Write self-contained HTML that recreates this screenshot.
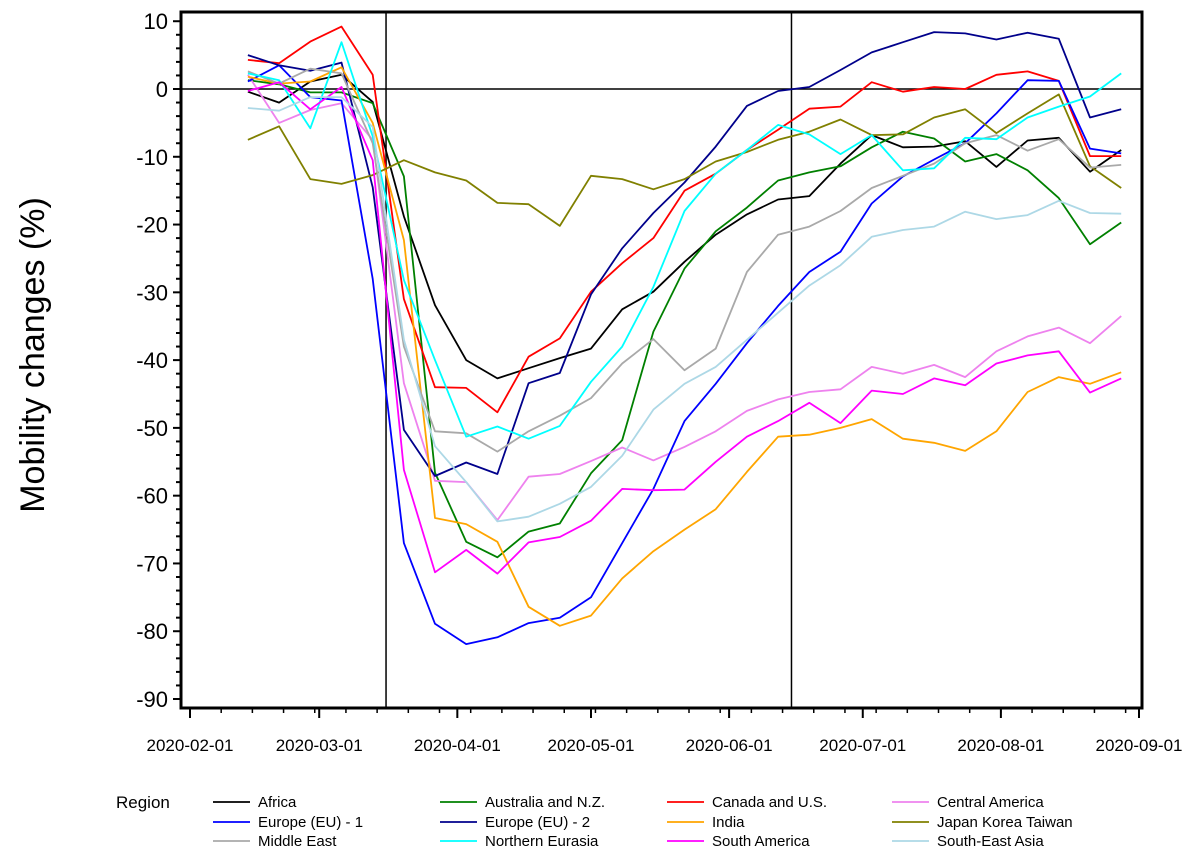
<!DOCTYPE html>
<html><head><meta charset="utf-8"><style>
body{margin:0;background:#fff;width:1194px;height:858px;overflow:hidden;font-family:"Liberation Sans",Arial,sans-serif}
</style></head><body>
<svg id="chart" width="1194" height="858" xmlns="http://www.w3.org/2000/svg" font-family="Liberation Sans, Arial, sans-serif"></svg>
<script>
const regions=["Africa","Australia and N.Z.","Canada and U.S.","Central America","Europe (EU) - 1","Europe (EU) - 2","India","Japan Korea Taiwan","Middle East","Northern Eurasia","South America","South-East Asia"];
const colors=["#000000","#008000","#ff0000","#ee82ee","#0000ff","#00008b","#ffa500","#808000","#a9a9a9","#00ffff","#ff00ff","#add8e6"];
const startDay=13, stepDays=7;
const yTicks=[10,0,-10,-20,-30,-40,-50,-60,-70,-80,-90];
const xTickLabels=["2020-02-01","2020-03-01","2020-04-01","2020-05-01","2020-06-01","2020-07-01","2020-08-01","2020-09-01"];
const xTickDays=[0,29,60,90,121,151,182,213];
const vlineDays=[44,135];
const africa=[-0.4,-2.0,1.1,2.1,-1.9,-18.8,-31.9,-40.0,-42.7,-41.2,-39.7,-38.3,-32.5,-29.9,-25.5,-21.5,-18.5,-16.3,-15.8,-11,-6.8,-8.6,-8.5,-7.7,-11.5,-7.6,-7.2,-12.2,-9.0];
const australia=[1.3,0.7,-0.5,-0.5,-2.1,-12.9,-56.6,-66.8,-69.1,-65.3,-64.1,-56.7,-51.8,-35.8,-26.5,-21,-17.5,-13.5,-12.3,-11.4,-8.6,-6.3,-7.3,-10.7,-9.6,-12.0,-16.1,-22.9,-19.7];
const canada=[4.3,3.8,7.0,9.2,2.1,-31,-44.0,-44.1,-47.7,-39.5,-36.8,-29.9,-25.7,-22,-15,-12.5,-9,-6,-2.9,-2.6,1.0,-0.4,0.3,0.0,2.1,2.6,1.2,-9.9,-9.9];
const centralAmerica=[2.1,-5.0,-3.1,-2.1,-7.5,-43.4,-57.8,-58.0,-63.6,-57.2,-56.8,-54.9,-52.9,-54.8,-52.8,-50.5,-47.5,-45.8,-44.7,-44.3,-41,-42,-40.7,-42.5,-38.7,-36.5,-35.2,-37.5,-33.5];
const europe1=[1.1,3.5,-1.2,-1.7,-28,-67,-78.9,-81.9,-80.9,-78.8,-78,-75,-67,-59,-49,-43.5,-37.5,-32,-27,-24,-16.9,-12.9,-10.4,-8,-3.6,1.3,1.2,-8.8,-9.5];
const europe2=[5.0,3.5,2.7,3.9,-14.5,-50.3,-57.1,-55.1,-56.8,-43.4,-41.9,-30.3,-23.5,-18.3,-13.8,-8.5,-2.5,-0.3,0.3,2.8,5.4,6.9,8.4,8.2,7.3,8.3,7.4,-4.2,-3.0];
const india=[1.8,0.8,1.1,3.2,-5,-22.3,-63.3,-64.2,-66.8,-76.4,-79.2,-77.7,-72.2,-68.2,-65,-62,-56.5,-51.3,-51,-50,-48.7,-51.6,-52.2,-53.4,-50.5,-44.7,-42.5,-43.5,-41.8];
const japan=[-7.5,-5.5,-13.3,-14.0,-12.7,-10.5,-12.3,-13.5,-16.8,-17,-20.2,-12.8,-13.3,-14.8,-13.3,-10.7,-9.3,-7.5,-6.3,-4.5,-6.8,-6.7,-4.2,-3.0,-6.5,-3.6,-0.8,-11.4,-14.6];
const middleEast=[2.6,0.8,3.0,2.3,-8,-38,-50.5,-50.8,-53.5,-50.5,-48.2,-45.6,-40.5,-36.9,-41.5,-38.3,-27,-21.5,-20.3,-18.0,-14.6,-12.8,-11.0,-8.0,-6.8,-9.1,-7.4,-11.6,-11.2];
const northernEurasia=[2.3,1.3,-5.8,6.9,-7,-28.2,-40.0,-51.3,-49.8,-51.6,-49.7,-43.2,-38.0,-29.2,-18,-12.5,-9,-5.3,-6.7,-9.6,-6.8,-12.0,-11.7,-7.2,-7.4,-4.2,-2.6,-1.1,2.3];
const southAmerica=[-0.3,1.0,-3.0,0.3,-10.5,-56.2,-71.3,-68.0,-71.5,-66.9,-66.1,-63.7,-59.0,-59.2,-59.1,-55,-51.3,-49,-46.3,-49.3,-44.5,-45,-42.7,-43.7,-40.5,-39.3,-38.7,-44.8,-42.7];
const seAsia=[-2.8,-3.2,-1.2,-1.2,-5.6,-37,-52.7,-58,-63.8,-63.1,-61.2,-58.7,-54.1,-47.3,-43.5,-41,-37,-33,-29,-26,-21.8,-20.8,-20.3,-18.1,-19.2,-18.6,-16.5,-18.3,-18.4];
const series=[africa,australia,canada,centralAmerica,europe1,europe2,india,japan,middleEast,northernEurasia,southAmerica,seAsia];
const legendOrder=[0,1,2,3,4,5,6,7,8,9,10,11];

const NS="http://www.w3.org/2000/svg";
const svg=document.getElementById('chart');
const L=181,T=12,R=1142,B=708;
const xs=d=>190+d*(949/213);
const ys=v=>89-v*(610/90);
function mk(tag,attrs,parent){const e=document.createElementNS(NS,tag);for(const k in attrs)e.setAttribute(k,attrs[k]);(parent||svg).appendChild(e);return e;}
let z=mk('line',{x1:L,x2:R,y1:ys(0),y2:ys(0),stroke:'#000','stroke-width':1.5});


vlineDays.forEach(d=>{const l=mk('line',{x1:xs(d),x2:xs(d),y1:T,y2:B,stroke:'#000','stroke-width':1.5});

});
series.forEach((s,i)=>{
 const pts=s.map((v,j)=>xs(startDay+j*stepDays).toFixed(1)+','+ys(v).toFixed(1)).join(' ');
 const p=mk('polyline',{points:pts,fill:'none',stroke:colors[i],'stroke-width':1.8,'stroke-linejoin':'round'});
 
 
});
let f=mk('rect',{x:L,y:T,width:R-L,height:B-T,fill:'none',stroke:'#000','stroke-width':3});


for(let v=10;v>=-90;v-=2){const major=v%10===0;mk('line',{x1:L-(major?8:5),x2:L,y1:ys(v),y2:ys(v),stroke:'#000','stroke-width':2});}
yTicks.forEach(v=>{const t=mk('text',{x:168,y:ys(v)+8,'text-anchor':'end','font-size':22});t.textContent=v;

});
for(let d=0;d<=213;d+=7){mk('line',{x1:xs(d),x2:xs(d),y1:B,y2:B+5,stroke:'#000','stroke-width':1.5});}
xTickDays.forEach((d,i)=>{mk('line',{x1:xs(d),x2:xs(d),y1:B,y2:B+10,stroke:'#000','stroke-width':2});
 const t=mk('text',{x:xs(d),y:751,'text-anchor':'middle','font-size':17});t.textContent=xTickLabels[i];
 
 });
let yt=mk('text',{x:0,y:0,transform:'translate(44,355) rotate(-90)','text-anchor':'middle','font-size':34});
yt.textContent='Mobility changes (%)';


let lt=mk('text',{x:116,y:808,'font-size':17});lt.textContent='Region';


const colX=[213,440,667,892],rowY=[802,822,841];
legendOrder.forEach((idx,k)=>{const c=k%4,r=Math.floor(k/4);
 const g=mk('g',{});
 
 
 mk('line',{x1:colX[c],x2:colX[c]+37,y1:rowY[r],y2:rowY[r],stroke:colors[idx],'stroke-width':1.8},g);
 const t=mk('text',{x:colX[c]+45,y:rowY[r]+5,'font-size':15},g);t.textContent=regions[idx];});
</script>
</body></html>
